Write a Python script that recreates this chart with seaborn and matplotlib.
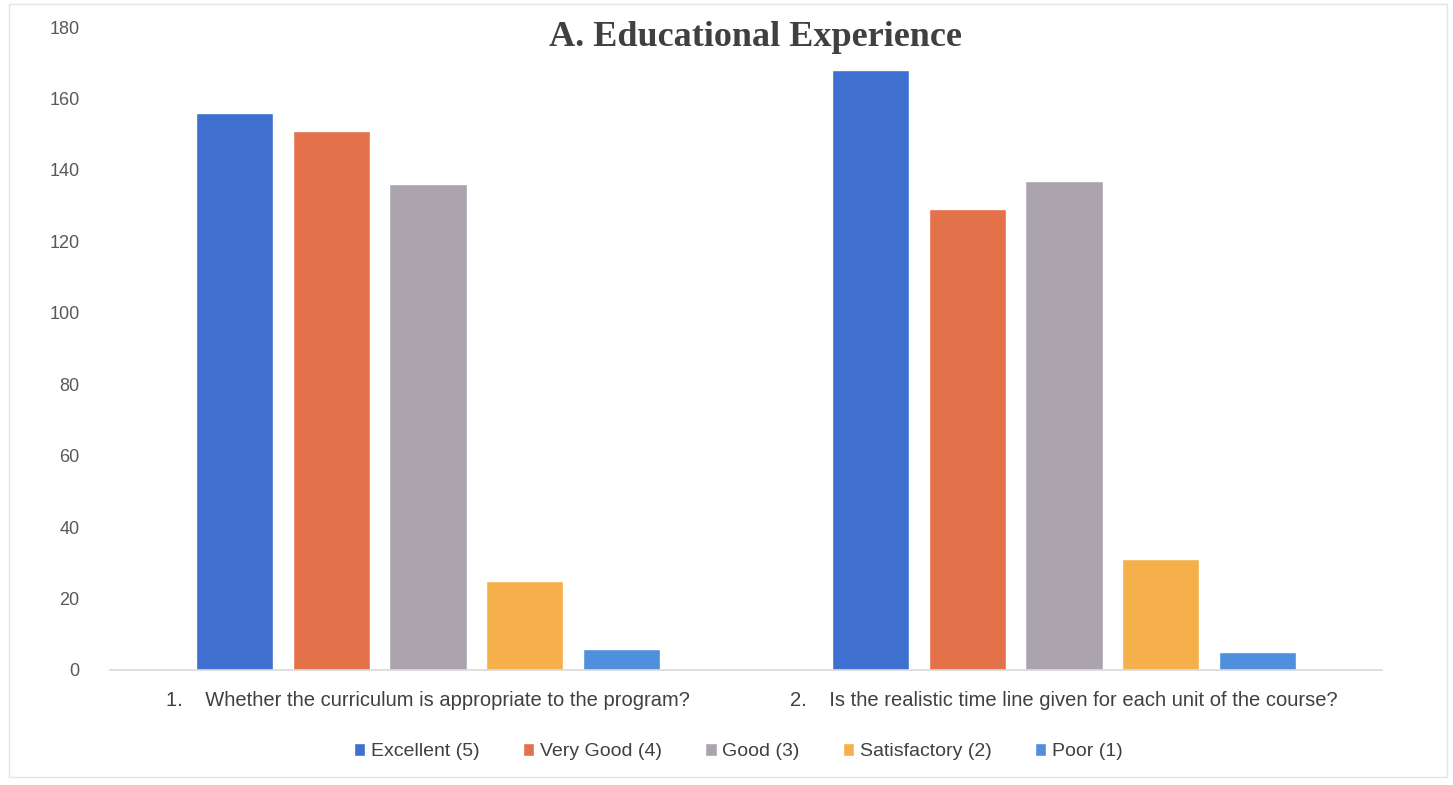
import matplotlib
matplotlib.use("Agg")
import matplotlib.pyplot as plt
import seaborn as sns
import pandas as pd
from matplotlib.patches import Rectangle

questions = [
    "1.    Whether the curriculum is appropriate to the program?",
    "2.    Is the realistic time line given for each unit of the course?",
]
ratings = ["Excellent (5)", "Very Good (4)", "Good (3)", "Satisfactory (2)", "Poor (1)"]
excellent = [156, 168]
very_good = [151, 129]
good = [136, 137]
satisfactory = [25, 31]
poor = [6, 5]
colors = ["#3F6FCF", "#E3714A", "#ABA3AE", "#F5AF4B", "#4F8FDC"]
yticks = [0, 20, 40, 60, 80, 100, 120, 140, 160, 180]

series = [excellent, very_good, good, satisfactory, poor]
rows = []
for r, vals in zip(ratings, series):
    for q, v in zip(questions, vals):
        rows.append({"question": q, "rating": r, "count": v})
df = pd.DataFrame(rows)

sns.set_style("white")
plt.rcParams["font.family"] = ["Liberation Sans", "DejaVu Sans"]

fig = plt.figure(figsize=(14.53, 7.85), dpi=100)
ax = fig.add_axes([0.0757, 0.1465, 0.8753, 0.8191])

sns.barplot(data=df, x="question", y="count", hue="rating", hue_order=ratings,
            order=questions, palette=colors, width=0.76, gap=0.2, ax=ax,
            saturation=1, legend=True)

ax.set_ylim(0, 180)
ax.set_yticks(yticks)
ax.set_xlim(-0.5, 1.5)
ax.set_xlabel("")
ax.set_ylabel("")
for s in ["top", "right", "left"]:
    ax.spines[s].set_visible(False)
ax.spines["bottom"].set_color("#D9D9D9")
ax.spines["bottom"].set_linewidth(1.2)
ax.tick_params(axis="y", length=0, pad=22, labelsize=13, labelcolor="#595959")
ax.tick_params(axis="x", length=0, pad=15, labelsize=14.5, labelcolor="#404040")

leg = ax.legend(loc="upper center", bbox_to_anchor=(0.494, -0.087), ncol=5,
                frameon=False, fontsize=14, handlelength=0.6, handleheight=0.6,
                handletextpad=0.3, columnspacing=2.2)
for t in leg.get_texts():
    t.set_color("#404040")

fig.text(0.52, 0.952, "A. Educational Experience", ha="center", va="center",
         fontsize=26, fontweight="bold", family=["Liberation Serif", "DejaVu Serif"],
         color="#404040")

fig.patches.append(Rectangle((0.006, 0.01), 0.99, 0.985, transform=fig.transFigure,
                             fill=False, edgecolor="#E4E4E4", linewidth=1))

fig.savefig("out.png", dpi=100)
